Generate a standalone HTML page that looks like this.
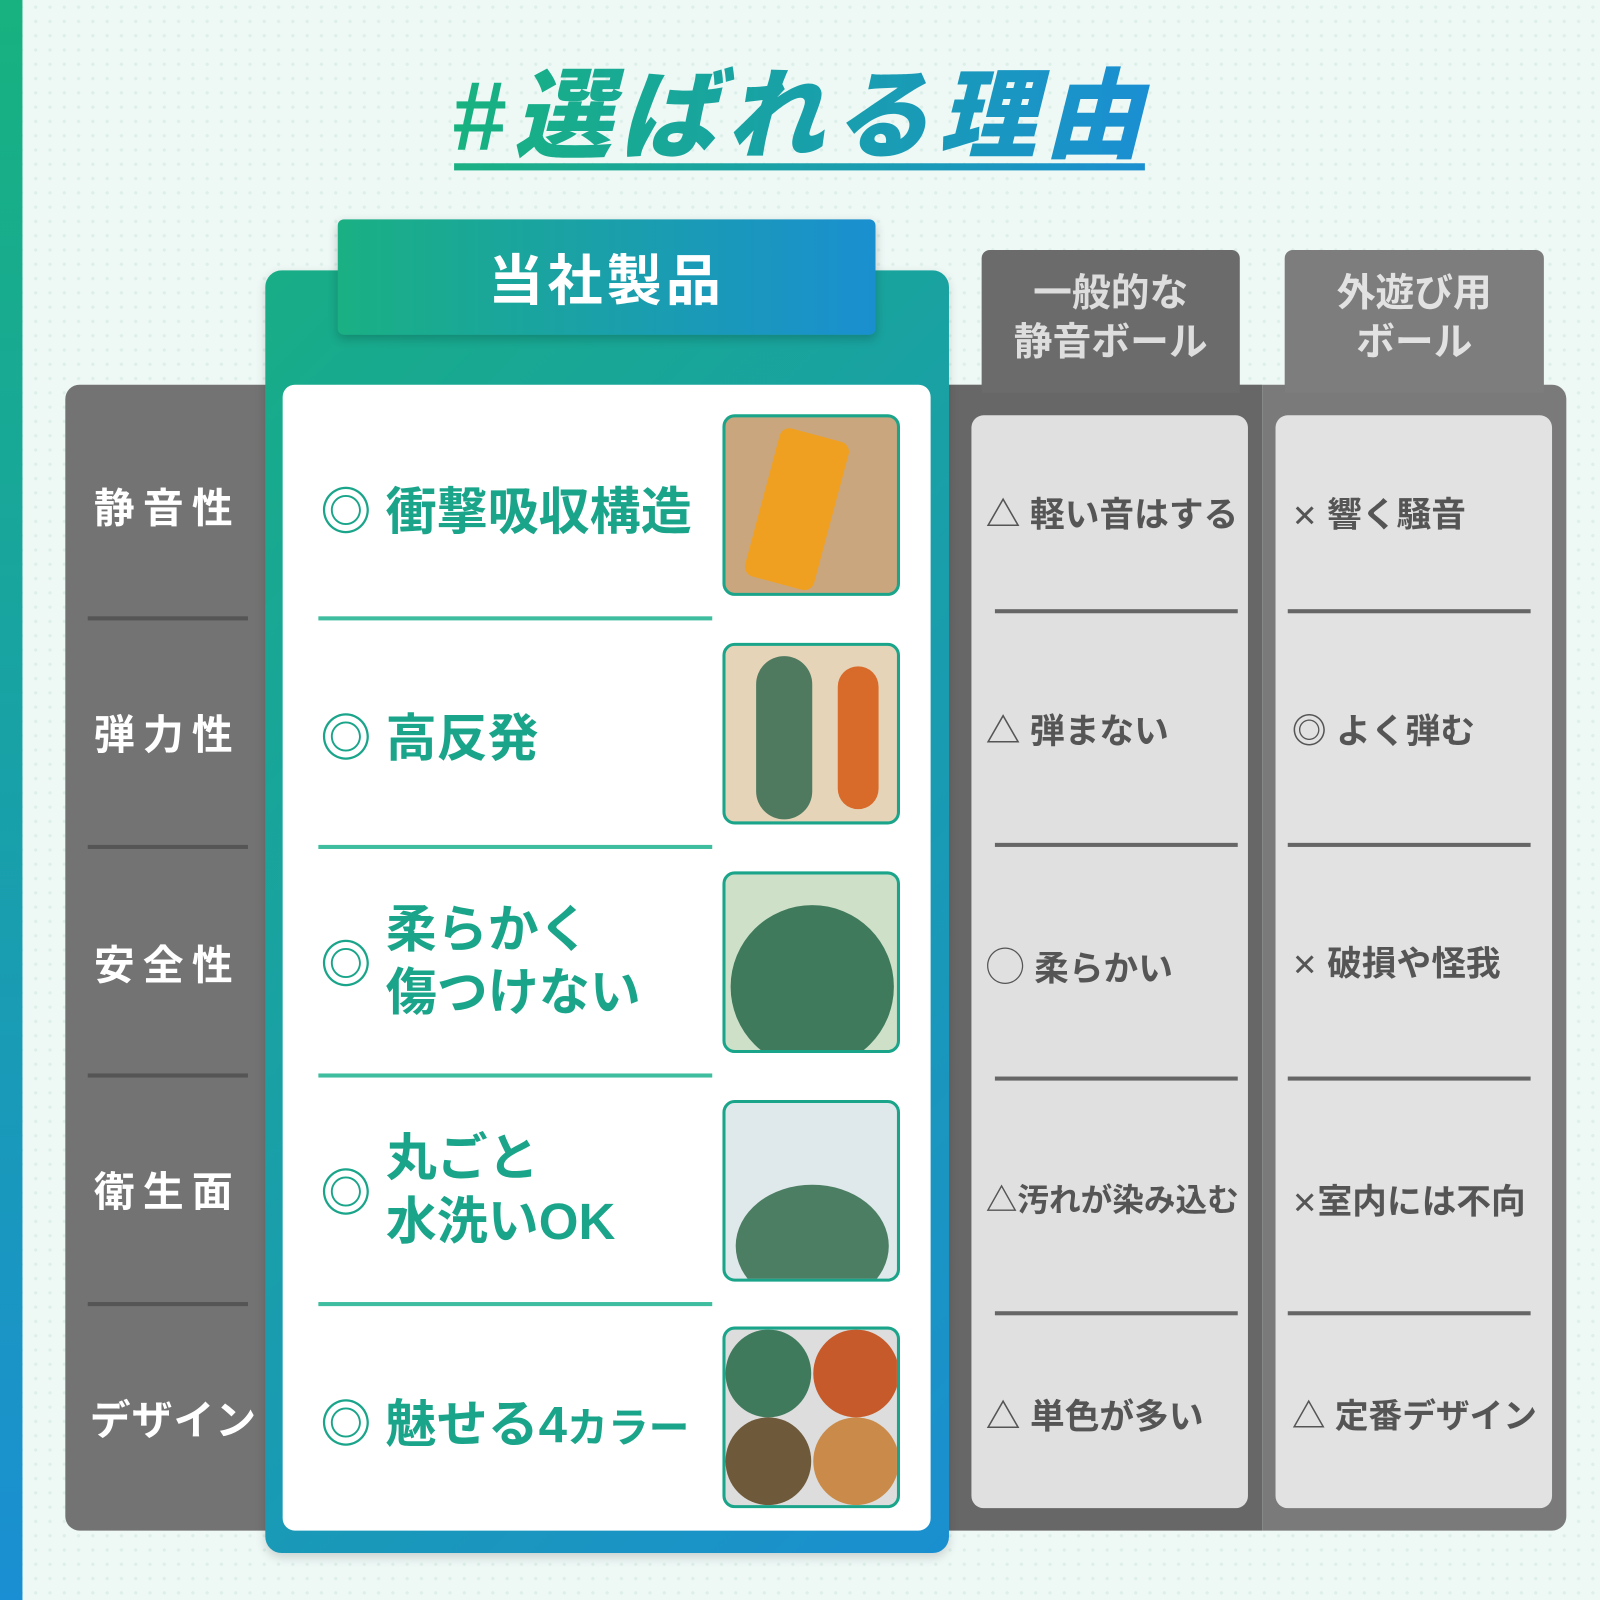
<!DOCTYPE html>
<html><head><meta charset="utf-8"><style>
html,body{margin:0;padding:0;width:1600px;height:1600px;overflow:hidden}
#s{position:relative;width:1568px;height:1568px;transform:scale(1.020408);transform-origin:0 0;
background-color:#eef8f5;background-image:radial-gradient(#dcefe9 1.5px,transparent 1.6px);background-size:14px 14px;
font-family:"Liberation Sans","Noto Sans CJK JP",sans-serif;font-weight:bold}
.a{position:absolute}
.t{position:absolute;white-space:nowrap}
.g{background:linear-gradient(90deg,#1ab083,#1a8fd0)}
.gt{background:linear-gradient(90deg,#17b27f,#1a8fd3);-webkit-background-clip:text;background-clip:text;color:transparent}
.lab{color:#fff;font-size:40px;letter-spacing:8px;left:92px}
.ok{font-size:50px;color:#1aa58a}
.gs{font-size:34px;color:#555;font-weight:bold}
.x{font-family:"DejaVu Sans",sans-serif;font-size:30px}
.sep1{position:absolute;left:86px;width:157px;height:4px;background:#555}
.sep2{position:absolute;left:312px;width:386px;height:4px;background:#3fbd9f}
.sep3{position:absolute;width:238px;height:4px;background:#666}
.img{position:absolute;left:708px;width:168px;height:172px;border:3px solid #1aa58a;border-radius:12px;overflow:hidden;background:#c9a67e}
</style></head><body><div id="s">
<div class="a g" style="left:0;top:0;width:22px;height:1568px;background:linear-gradient(180deg,#17b27f,#1a8fd3)"></div>
<div class="t gt" style="left:442px;top:36px;font-size:96px;font-style:italic;font-weight:900;letter-spacing:8px">#選ばれる理由</div>
<div class="a g" style="left:445px;top:160px;width:677px;height:7px"></div>

<div class="a" style="left:64px;top:377px;width:220px;height:1123px;background:#737373;border-radius:14px"></div>
<div class="a" style="left:915px;top:377px;width:322px;height:1123px;background:#676767"></div>
<div class="a" style="left:1237px;top:377px;width:298px;height:1123px;background:#7a7a7a;border-radius:0 14px 14px 0"></div>
<div class="a" style="left:962px;top:245px;width:253px;height:140px;background:#6b6b6b;border-radius:8px 8px 0 0"></div>
<div class="a" style="left:1259px;top:245px;width:254px;height:140px;background:#7d7d7d;border-radius:8px 8px 0 0"></div>
<div class="t" style="left:962px;top:264px;width:253px;text-align:center;color:#ddd;font-size:38px;line-height:48px">一般的な<br>静音ボール</div>
<div class="t" style="left:1259px;top:264px;width:254px;text-align:center;color:#e2e2e2;font-size:38px;line-height:48px">外遊び用<br>ボール</div>
<div class="a" style="left:952px;top:407px;width:271px;height:1071px;background:#e0e0e0;border-radius:12px"></div>
<div class="a" style="left:1250px;top:407px;width:271px;height:1071px;background:#e2e2e2;border-radius:12px"></div>

<div class="a g" style="left:260px;top:265px;width:670px;height:1257px;border-radius:16px;background:linear-gradient(135deg,#18ad86,#1a8fd0);box-shadow:0 4px 10px rgba(0,0,0,.15)"></div>
<div class="a g" style="left:331px;top:215px;width:527px;height:113px;border-radius:6px;box-shadow:0 4px 10px rgba(0,0,0,.2)"></div>
<div class="t" style="left:331px;top:231px;width:527px;text-align:center;color:#fff;font-size:54px;letter-spacing:4px">当社製品</div>
<div class="a" style="left:277px;top:377px;width:635px;height:1123px;background:#fff;border-radius:12px"></div>

<div class="t lab" style="top:466px">静音性</div>
<div class="t lab" style="top:688px">弾力性</div>
<div class="t lab" style="top:914px">安全性</div>
<div class="t lab" style="top:1136px">衛生面</div>
<div class="t lab" style="top:1360px;letter-spacing:1px;left:88px">デザイン</div>
<div class="sep1" style="top:604px"></div><div class="sep1" style="top:828px"></div><div class="sep1" style="top:1052px"></div><div class="sep1" style="top:1276px"></div>

<div class="t ok" style="left:314px;top:462px">◎ 衝撃吸収構造</div>
<div class="t ok" style="left:314px;top:684px">◎ 高反発</div>
<div class="t ok" style="left:314px;top:906px">◎</div>
<div class="t ok" style="left:378px;top:880px;line-height:62px">柔らかく<br>傷つけない</div>
<div class="t ok" style="left:314px;top:1130px">◎</div>
<div class="t ok" style="left:378px;top:1104px;line-height:62px">丸ごと<br>水洗いOK</div>
<div class="t ok" style="left:314px;top:1356px">◎ 魅せる4<span style="font-size:40px">カラー</span></div>
<div class="sep2" style="top:604px"></div><div class="sep2" style="top:828px"></div><div class="sep2" style="top:1052px"></div><div class="sep2" style="top:1276px"></div>

<div class="img" style="top:406px"><div class="a" style="left:35px;top:15px;width:70px;height:150px;background:#f0a020;border-radius:10px;transform:rotate(15deg)"></div></div>
<div class="img" style="top:630px;background:#e6d4b8"><div class="a" style="left:30px;top:10px;width:55px;height:160px;background:#4f7a60;border-radius:28px"></div><div class="a" style="left:110px;top:20px;width:40px;height:140px;background:#d86a2a;border-radius:20px"></div></div>
<div class="img" style="top:854px;background:#cfe0c8"><div class="a" style="left:5px;top:30px;width:160px;height:160px;background:#3f7a5c;border-radius:50%"></div></div>
<div class="img" style="top:1078px;background:#dfe8ea"><div class="a" style="left:10px;top:80px;width:150px;height:120px;background:#4b7e62;border-radius:50%"></div></div>
<div class="img" style="top:1300px;background:#ddd"><div class="a" style="left:0;top:0;width:84px;height:86px;background:#3f7a5c;border-radius:50%"></div><div class="a" style="left:86px;top:0;width:84px;height:86px;background:#c65a2a;border-radius:50%"></div><div class="a" style="left:0;top:86px;width:84px;height:86px;background:#6e5a3a;border-radius:50%"></div><div class="a" style="left:86px;top:86px;width:84px;height:86px;background:#c98a4a;border-radius:50%"></div></div>

<div class="t gs" style="left:966px;top:477px">△ 軽い音はする</div>
<div class="t gs" style="left:966px;top:689px">△ 弾まない</div>
<div class="t gs" style="left:966px;top:917px"><span style="font-size:38px;font-weight:normal">◯</span> 柔らかい</div>
<div class="t gs" style="left:966px;top:1151px;font-size:31px">△汚れが染み込む</div>
<div class="t gs" style="left:966px;top:1361px">△ 単色が多い</div>
<div class="t gs" style="left:1266px;top:477px"><span class="x">✕</span> 響く騒音</div>
<div class="t gs" style="left:1266px;top:689px">◎ よく弾む</div>
<div class="t gs" style="left:1266px;top:917px"><span class="x">✕</span> 破損や怪我</div>
<div class="t gs" style="left:1266px;top:1150px"><span class="x">✕</span>室内には不向</div>
<div class="t gs" style="left:1266px;top:1361px;font-size:33px">△ 定番デザイン</div>
<div class="sep3" style="left:975px;top:597px"></div><div class="sep3" style="left:975px;top:826px"></div><div class="sep3" style="left:975px;top:1055px"></div><div class="sep3" style="left:975px;top:1285px"></div>
<div class="sep3" style="left:1262px;top:597px"></div><div class="sep3" style="left:1262px;top:826px"></div><div class="sep3" style="left:1262px;top:1055px"></div><div class="sep3" style="left:1262px;top:1285px"></div>
</div></body></html>
